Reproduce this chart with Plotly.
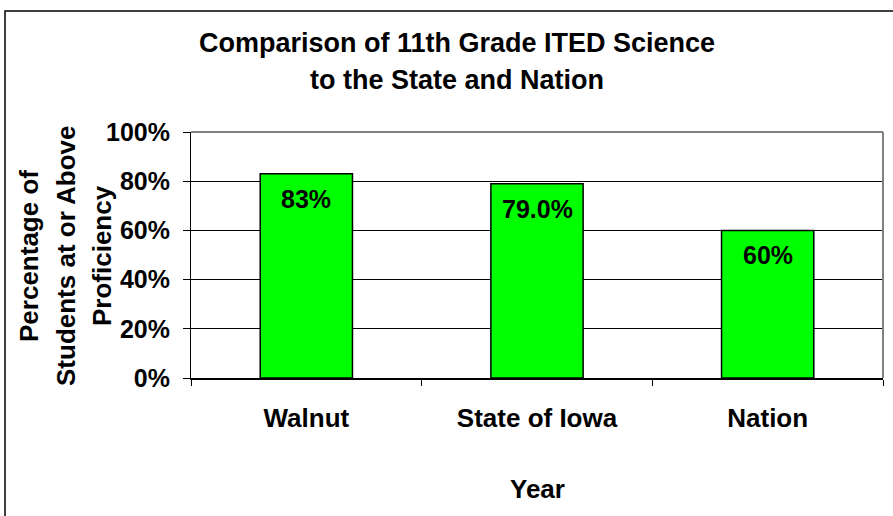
import plotly.graph_objects as go

categories = ["Walnut", "State of Iowa", "Nation"]
values = [83, 79, 60]
value_labels = ["83%", "79.0%", "60%"]
y_ticks = [0, 20, 40, 60, 80, 100]
y_tick_labels = ["0%", "20%", "40%", "60%", "80%", "100%"]
title_lines = ["Comparison of 11th Grade ITED Science", "to the State and Nation"]
y_title_lines = ["Percentage of", "Students at or Above", "Proficiency"]
x_title = "Year"

FONT = "Liberation Sans"
W, H = 893, 516
L, R, T, B = 191, 10, 132, 138
PW, PH = W - L - R, H - T - B


def px(x):
    return (x - L) / PW


def py(y):
    return (H - B - y) / PH


fig = go.Figure()
fig.add_trace(go.Bar(
    x=categories, y=values, width=0.4,
    marker=dict(color="#00FF00", line=dict(color="#000000", width=1.5)),
    hoverinfo="skip",
))

annotations = []
for c, v, t in zip(categories, values, value_labels):
    annotations.append(dict(x=c, y=v, xref="x", yref="y", text="<b>%s</b>" % t,
                            showarrow=False, yanchor="middle", yshift=-25,
                            font=dict(family=FONT, size=25, color="black")))

for i, line in enumerate(title_lines):
    annotations.append(dict(x=px(457), y=py([43, 80][i]), xref="paper", yref="paper",
                            text="<b>%s</b>" % line, showarrow=False,
                            xanchor="center", yanchor="middle",
                            font=dict(family=FONT, size=27, color="black")))

for i, line in enumerate(y_title_lines):
    annotations.append(dict(x=px([29, 66, 102][i]), y=py(256), xref="paper", yref="paper",
                            text="<b>%s</b>" % line, showarrow=False, textangle=-90,
                            xanchor="center", yanchor="middle",
                            font=dict(family=FONT, size=26, color="black")))

annotations.append(dict(x=px(537), y=py(489), xref="paper", yref="paper",
                        text="<b>%s</b>" % x_title, showarrow=False,
                        xanchor="center", yanchor="middle",
                        font=dict(family=FONT, size=26, color="black")))

shapes = [
    # outer chart border
    dict(type="rect", xref="paper", yref="paper", x0=px(5), y0=py(530), x1=px(905), y1=py(11),
         line=dict(color="#000000", width=1.5), fillcolor="rgba(0,0,0,0)", layer="below"),
    # plot area border (gray) top and right
    dict(type="line", xref="paper", yref="paper", x0=0, y0=1, x1=1, y1=1,
         line=dict(color="#808080", width=2), layer="above"),
    dict(type="line", xref="paper", yref="paper", x0=1, y0=0, x1=1, y1=1,
         line=dict(color="#808080", width=2), layer="above"),
]

fig.update_layout(
    width=W, height=H,
    margin=dict(l=L, r=R, t=T, b=B, pad=0),
    paper_bgcolor="white", plot_bgcolor="white",
    showlegend=False,
    annotations=annotations,
    shapes=shapes,
    font=dict(family=FONT, color="black"),
)

fig.update_yaxes(
    range=[0, 100], tickvals=y_ticks, ticktext=["<b>%s</b>" % t for t in y_tick_labels],
    tickfont=dict(family=FONT, size=25, color="black"),
    showgrid=True, gridcolor="#000000", gridwidth=1,
    showline=True, linecolor="#000000", linewidth=1,
    ticks="outside", ticklen=7, tickcolor="#000000", ticklabelstandoff=8,
    zeroline=False, fixedrange=True,
)
fig.update_xaxes(
    tickvals=categories, ticktext=["<b>%s</b>" % c for c in categories],
    tickfont=dict(family=FONT, size=26, color="black"),
    showline=True, linecolor="#000000", linewidth=1.5,
    ticks="outside", ticklen=6, tickcolor="#000000", tickson="boundaries",
    ticklabelstandoff=16,
    showgrid=False, fixedrange=True,
)

fig.write_html("out.html", config=dict(displayModeBar=False),
               post_script="document.body.style.margin='0';document.body.style.overflow='hidden';")
